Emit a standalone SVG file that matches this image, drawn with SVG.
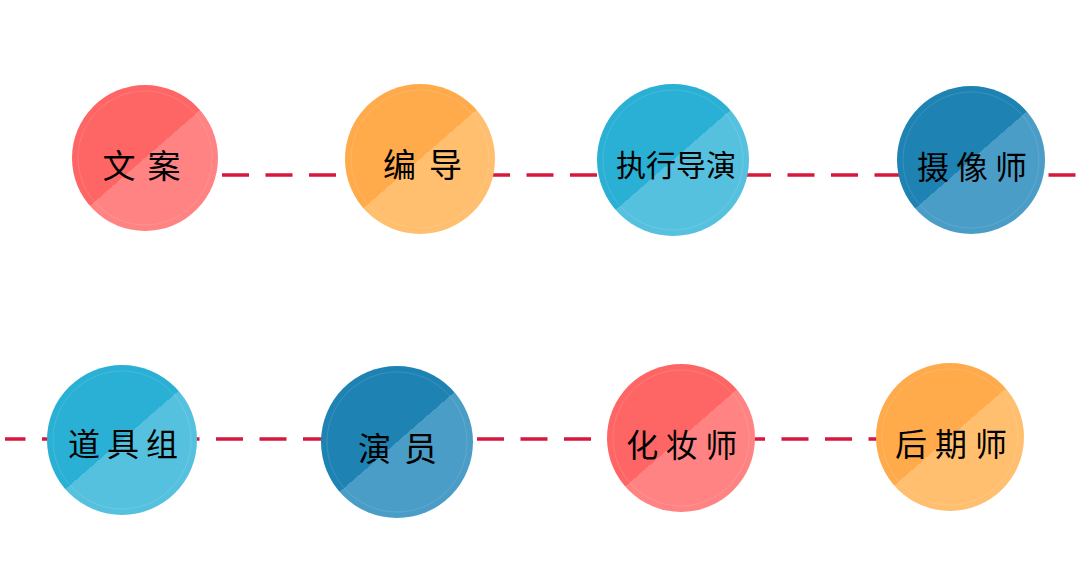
<svg xmlns="http://www.w3.org/2000/svg" width="1080" height="563" viewBox="0 0 1080 563">
<defs>
<linearGradient id="gRed" x1="0.065" y1="0" x2="0.935" y2="1"><stop offset="0.5" stop-color="#FE6666"/><stop offset="0.5" stop-color="#FF8383"/></linearGradient>
<linearGradient id="gOrange" x1="0.065" y1="0" x2="0.935" y2="1"><stop offset="0.5" stop-color="#FFAB4C"/><stop offset="0.5" stop-color="#FFBF6F"/></linearGradient>
<linearGradient id="gCyan" x1="0.065" y1="0" x2="0.935" y2="1"><stop offset="0.5" stop-color="#2AB0D4"/><stop offset="0.5" stop-color="#56C1DE"/></linearGradient>
<linearGradient id="gBlue" x1="0.065" y1="0" x2="0.935" y2="1"><stop offset="0.5" stop-color="#1E82B3"/><stop offset="0.5" stop-color="#4A9DC6"/></linearGradient>
</defs>
<style>
.dash{stroke:#D8173F;stroke-width:3.5;stroke-dasharray:27 16.5;fill:none}
.ring{fill:none;stroke:#ffffff;stroke-opacity:0.12;stroke-width:1}
.lbl{font-family:"Noto Sans CJK SC","Noto Sans",sans-serif;fill:#000;text-anchor:middle;dominant-baseline:central}
</style>
<rect width="1080" height="563" fill="#ffffff"/>
<g id="connectors">
<line class="dash" x1="222" y1="175" x2="1080" y2="175"/>
<line class="dash" x1="5" y1="439" x2="900" y2="439" stroke-dashoffset="6.5"/>
</g>
<g id="node-wenan">
<circle cx="145" cy="158" r="73" fill="url(#gRed)"/><circle class="ring" cx="145" cy="158" r="67"/>
<text class="lbl" x="147.5" y="164" font-size="33" letter-spacing="12">文案</text>
</g>
<g id="node-biandao">
<circle cx="420" cy="159" r="75" fill="url(#gOrange)"/><circle class="ring" cx="420" cy="159" r="69"/>
<text class="lbl" x="429" y="163" font-size="33" letter-spacing="13">编导</text>
</g>
<g id="node-zhixingdaoyan">
<circle cx="673" cy="160" r="76" fill="url(#gCyan)"/><circle class="ring" cx="673" cy="160" r="70"/>
<text class="lbl" x="676" y="163" font-size="30">执行导演</text>
</g>
<g id="node-shexiangshi">
<circle cx="971" cy="160" r="74" fill="url(#gBlue)"/><circle class="ring" cx="971" cy="160" r="68"/>
<text class="lbl" x="975.5" y="165" font-size="32" letter-spacing="7">摄像师</text>
</g>
<g id="node-daojuzu">
<circle cx="122" cy="440" r="75" fill="url(#gCyan)"/><circle class="ring" cx="122" cy="440" r="69"/>
<text class="lbl" x="126.5" y="442" font-size="32" letter-spacing="7">道具组</text>
</g>
<g id="node-yanyuan">
<circle cx="397" cy="442" r="76" fill="url(#gBlue)"/><circle class="ring" cx="397" cy="442" r="70"/>
<text class="lbl" x="404" y="447" font-size="33" letter-spacing="13">演员</text>
</g>
<g id="node-huazhuangshi">
<circle cx="681" cy="438" r="74" fill="url(#gRed)"/><circle class="ring" cx="681" cy="438" r="68"/>
<text class="lbl" x="685.5" y="443" font-size="32" letter-spacing="7.5">化妆师</text>
</g>
<g id="node-houqishi">
<circle cx="950" cy="437" r="74" fill="url(#gOrange)"/><circle class="ring" cx="950" cy="437" r="68"/>
<text class="lbl" x="955" y="442" font-size="32" letter-spacing="8">后期师</text>
</g>
</svg>
